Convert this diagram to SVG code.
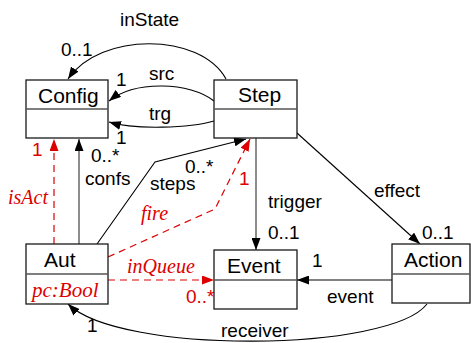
<svg xmlns="http://www.w3.org/2000/svg" width="471" height="343" viewBox="0 0 471 343">
<style>
.box{fill:#fff;stroke:#1a1a1a;stroke-width:1.3}
.div{stroke:#555;stroke-width:1.3}
.name{font-family:"Liberation Sans",Arial,sans-serif;font-size:21px;fill:#000}
.lbl{font-family:"Liberation Sans",Arial,sans-serif;font-size:19px;fill:#000}
.rl{font-family:"Liberation Sans",Arial,sans-serif;font-size:19px;fill:#dd0000}
.ri{font-family:"Liberation Serif","Times New Roman",serif;font-style:italic;font-size:20px;fill:#dd0000}
.ln{fill:none;stroke:#000;stroke-width:1.1}
.gl{fill:none;stroke:#808080;stroke-width:1.8}
.rd{fill:none;stroke:#dd0000;stroke-width:1.2;stroke-dasharray:7,5}
</style>
<defs>
<marker id="ab" markerUnits="userSpaceOnUse" markerWidth="12" markerHeight="9" refX="12" refY="4.5" orient="auto"><path d="M0,0 L12,4.5 L0,9 z" fill="#000"/></marker>
<marker id="ar" markerUnits="userSpaceOnUse" markerWidth="12" markerHeight="9" refX="12" refY="4.5" orient="auto"><path d="M0,0 L12,4.5 L0,9 z" fill="#dd0000"/></marker>
</defs>
<g id="connectors">
<path class="ln" d="M226,79 C200,32 100,32 68,79" marker-end="url(#ab)"/>
<path class="ln" d="M214,101 C190,82 135,80 109,101" marker-end="url(#ab)"/>
<path class="ln" d="M214,121 C190,128 135,130 109,122" marker-end="url(#ab)"/>
<path class="gl" d="M79,244 L79,139" marker-end="url(#ab)"/>
<path class="rd" d="M54,244 L54,139" marker-end="url(#ar)"/>
<path class="ln" d="M97,244 L155,162 L246,139" marker-end="url(#ab)"/>
<path class="rd" d="M108,257 L215,209 L250,139" marker-end="url(#ar)"/>
<path class="gl" d="M256,138 L256,250" marker-end="url(#ab)"/>
<path class="ln" d="M297,133 L420,244" marker-end="url(#ab)"/>
<path class="gl" d="M392,280 L297,280" marker-end="url(#ab)"/>
<path class="rd" d="M108,280 L214,280" marker-end="url(#ar)"/>
<path class="ln" d="M427,304 C390,352 120,355 68,304" marker-end="url(#ab)"/>
<text class="lbl" x="120" y="26">inState</text>
<text class="lbl" x="61" y="56">0..1</text>
<text class="lbl" x="116" y="86">1</text>
<text class="lbl" x="149" y="80">src</text>
<text class="lbl" x="149" y="120">trg</text>
<text class="lbl" x="116" y="144">1</text>
<text class="rl" x="32" y="156">1</text>
<text class="lbl" x="91" y="162">0..*</text>
<text class="lbl" x="85" y="185">confs</text>
<text class="ri" x="8" y="204">isAct</text>
<text class="lbl" x="185" y="173">0..*</text>
<text class="lbl" x="150" y="190">steps</text>
<text class="rl" x="239" y="185">1</text>
<text class="ri" x="141" y="220">fire</text>
<text class="lbl" x="268" y="208">trigger</text>
<text class="lbl" x="268" y="239">0..1</text>
<text class="lbl" x="374" y="197">effect</text>
<text class="lbl" x="422" y="239">0..1</text>
<text class="lbl" x="312" y="267">1</text>
<text class="lbl" x="327" y="303">event</text>
<text class="lbl" x="221" y="337">receiver</text>
<text class="lbl" x="87" y="332">1</text>
<text class="ri" x="127" y="273">inQueue</text>
<text class="rl" x="186" y="303">0..*</text>
</g>
<g id="Config">
<rect class="box" x="26" y="80" width="82" height="58"/>
<line class="div" x1="26" y1="109" x2="108" y2="109"/>
<text class="name" x="38" y="103">Config</text>
</g>
<g id="Step">
<rect class="box" x="214" y="80" width="83" height="58"/>
<line class="div" x1="214" y1="109" x2="297" y2="109"/>
<text class="name" x="238" y="102">Step</text>
</g>
<g id="Aut">
<rect class="box" x="26" y="244" width="82" height="60"/>
<line class="div" x1="26" y1="274" x2="108" y2="274"/>
<text class="name" x="44" y="267">Aut</text>
<text class="ri" x="32" y="297" style="font-size:21px">pc:Bool</text>
</g>
<g id="Event">
<rect class="box" x="214" y="250" width="83" height="59"/>
<line class="div" x1="214" y1="280" x2="297" y2="280"/>
<text class="name" x="227" y="273">Event</text>
</g>
<g id="Action">
<rect class="box" x="392" y="244" width="78" height="59"/>
<line class="div" x1="392" y1="274" x2="470" y2="274"/>
<text class="name" x="404" y="267">Action</text>
</g>
</svg>
